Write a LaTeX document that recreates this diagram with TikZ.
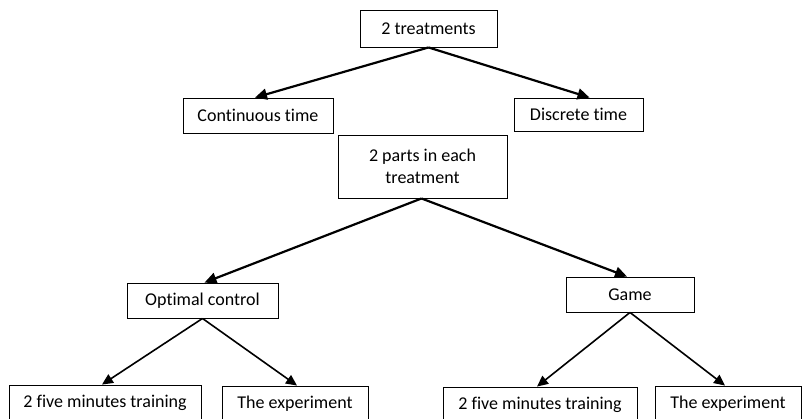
\documentclass[tikz,border=0pt]{standalone}
\usepackage{fontspec}
\setmainfont[Ligatures=NoCommon]{Carlito}
\usetikzlibrary{arrows.meta,calc}
\tikzset{
  box/.style={draw=black, line width=0.9pt, fill=white, inner sep=0pt, align=center, font=\fontsize{18}{22}\selectfont},
  arr/.style={line width=2.2pt, -{Triangle[length=12pt,width=11pt]}},
  arrs/.style={line width=1.6pt, -{Triangle[length=11pt,width=10pt]}}
}
\begin{document}
\begin{tikzpicture}[x=1pt,y=-1pt]
\useasboundingbox (0,0) rectangle (802,418);
\clip (0,0) rectangle (802,418);
\node[box, minimum width=137pt, minimum height=37pt] (tr) at (428.5,28.5) {2 treatments};
\node[box, minimum width=150pt, minimum height=35pt] (ct) at (258,115.5) {Continuous time};
\node[box, minimum width=129pt, minimum height=33pt] (dt) at (578.5,114.5) {Discrete time};
\node[box, minimum width=169pt, minimum height=63pt] (pt) at (422.5,166.5) {2 parts in each\\treatment};
\node[box, minimum width=151pt, minimum height=35pt] (oc) at (202.5,300.5) {Optimal control};
\node[box, minimum width=128pt, minimum height=35pt] (gm) at (630,294.5) {Game};
\node[box, minimum width=192pt, minimum height=35pt] (t1) at (105,402.5) {2 five minutes training};
\node[box, minimum width=146pt, minimum height=35pt] (e1) at (295,403.5) {The experiment};
\node[box, minimum width=194pt, minimum height=35pt] (t2) at (540,404.5) {2 five minutes training};
\node[box, minimum width=146pt, minimum height=35pt] (e2) at (728,403.5) {The experiment};
\draw[arr] (tr.south) -- ([xshift=-3pt]ct.north);
\draw[arr] (tr.south) -- ([xshift=11pt]dt.north);
\draw[arr] ([xshift=-1pt]pt.south) -- ([xshift=2pt]oc.north);
\draw[arr] ([xshift=-1pt]pt.south) -- ([xshift=-3pt]gm.north);
\draw[arrs] (oc.south) -- ([xshift=-3pt]t1.north);
\draw[arrs] (oc.south) -- ([xshift=2pt]e1.north);
\draw[arrs] (gm.south) -- ([xshift=-3pt]t2.north);
\draw[arrs] (gm.south) -- ([xshift=-3pt]e2.north);
\end{tikzpicture}
\end{document}
